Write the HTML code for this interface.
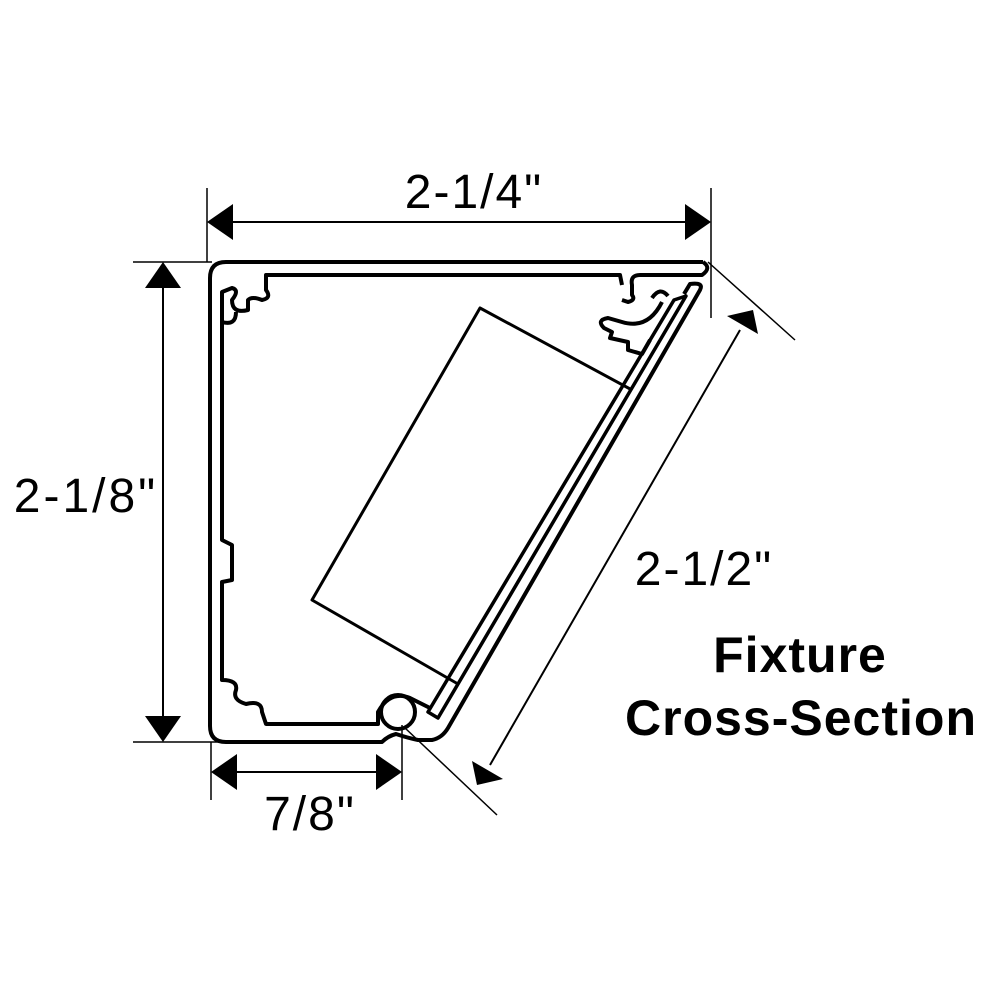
<!DOCTYPE html>
<html><head><style>body{margin:0;background:#fff}svg{display:block}</style></head><body>
<svg width="1000" height="1000" viewBox="0 0 1000 1000" xmlns="http://www.w3.org/2000/svg">
<g stroke="#000" fill="none" stroke-width="1.5">
<line x1="207" y1="188" x2="207" y2="262"/>
<line x1="711" y1="188" x2="711" y2="318"/>
<line x1="133" y1="262" x2="212" y2="262"/>
<line x1="133" y1="742" x2="262" y2="742"/>
<line x1="211" y1="742" x2="211" y2="800"/>
<line x1="402" y1="725" x2="402" y2="800"/>
<line x1="708" y1="262" x2="795" y2="340"/>
<line x1="405" y1="728" x2="497" y2="815"/>
<line x1="230" y1="222" x2="690" y2="222" stroke-width="2"/>
<line x1="163" y1="285" x2="163" y2="720" stroke-width="2"/>
<line x1="235" y1="772" x2="380" y2="772" stroke-width="2"/>
<line x1="740" y1="330" x2="490" y2="765" stroke-width="2"/>
</g>
<g fill="#000">
<polygon points="207,222 233,204 233,240"/>
<polygon points="711,222 685,204 685,240"/>
<polygon points="163,262 145,288 181,288"/>
<polygon points="163,742 145,716 181,716"/>
<polygon points="211,772 237,754 237,790"/>
<polygon points="402,772 376,754 376,790"/>
<polygon points="753,310 727,316 758,334"/>
<polygon points="477,785 472,761 503,779"/>
</g>
<g stroke="#000" fill="none" stroke-width="4" stroke-linejoin="round">
<path d="M703,262 L226,262 Q210,262 210,278 L210,726 Q210,742 226,742 L382,742 Q388,736 396,734 Q408,738 418,740 L432,740 Q442,738 448,728 L700,290 Q704,282 690,284 L684,294"/>
<path d="M703,262 Q712,268 702,275 L640,275 Q630,275 632,285 L632,295 Q636,300 628,302 L622,300"/>
<path d="M622,285 L620,275 L266,275 L266,290 Q272,298 262,300 Q252,296 248,300 L248,310 Q232,314 232,300 Q240,290 232,288 L222,292 L222,540 L232,545 L232,580 L222,582 L222,680 Q238,680 236,690 Q232,700 246,704 Q262,700 262,712 L266,724 L378,724 L378,712 Q390,690 410,698 L430,708"/>
<path d="M222,292 L222,322 Q236,326 236,312"/>
<path d="M662,302 Q648,330 622,322 L608,318 Q596,320 604,328 L612,332 L610,338 L628,342 L628,350 L642,354 L650,340"/>
<path d="M652,298 Q660,286 668,296"/>
<circle cx="398" cy="712" r="17"/>
<path d="M686,296 L438,718 L428,712 L674,300 Z" stroke-width="3.5"/>
<path d="M632,390 L480,308 L312,600 L458,684" stroke-width="3"/>
</g>
<g font-family="Liberation Sans, sans-serif" fill="#000">
<text x="474" y="208" font-size="48" letter-spacing="2" text-anchor="middle">2-1/4"</text>
<text x="86" y="512" font-size="48" letter-spacing="3" text-anchor="middle">2-1/8"</text>
<text x="310" y="830" font-size="48" letter-spacing="2" text-anchor="middle">7/8"</text>
<text x="704" y="585" font-size="48" letter-spacing="2" text-anchor="middle">2-1/2"</text>
<text x="800" y="672" font-size="50" font-weight="bold" letter-spacing="1" text-anchor="middle">Fixture</text>
<text x="801" y="735" font-size="50" font-weight="bold" letter-spacing="1" text-anchor="middle">Cross-Section</text>
</g>
</svg>
</body></html>
